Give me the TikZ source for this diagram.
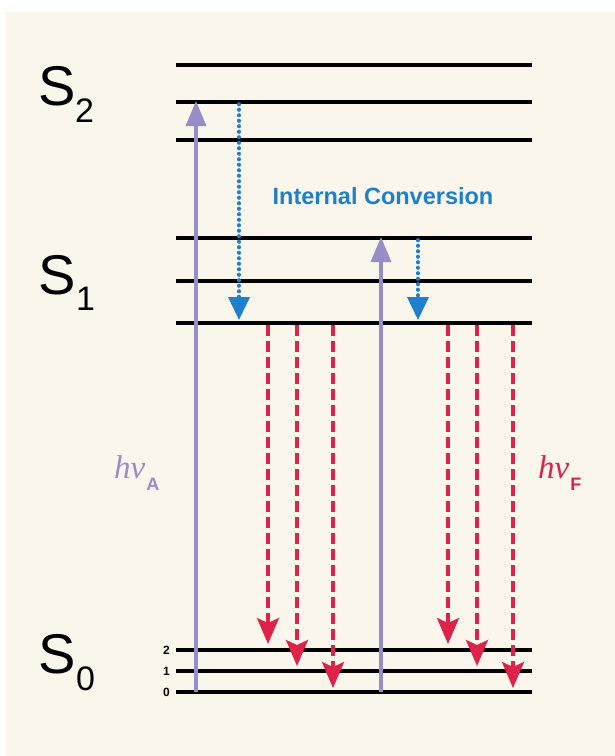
\documentclass[tikz,border=0pt]{standalone}
\usepackage{fontspec}
\setmainfont{Liberation Serif}
\setsansfont{Liberation Sans}
\usetikzlibrary{arrows.meta}
\definecolor{bg}{HTML}{FAF6EC}
\definecolor{lav}{HTML}{9A8CC6}
\definecolor{icblue}{HTML}{1E80CC}
\definecolor{fred}{HTML}{E0224A}
\begin{document}
\begin{tikzpicture}[x=1pt,y=-1pt,
  level/.style={line width=4.6pt,black},
  absarrow/.style={line width=3.2pt,lav,-{Triangle[width=20pt,length=25pt]}},
  icarrow/.style={line width=3.6pt,icblue,line cap=round,dash pattern=on 0.5pt off 5pt,-{Triangle[width=21pt,length=23pt]}},
  flarrow/.style={line width=3.2pt,fred,dash pattern=on 11pt off 5pt,-{Stealth[width=22pt,length=26pt,inset=5pt]}},
  statelbl/.style={anchor=base west,inner sep=0pt,font=\sffamily\fontsize{56}{56}\selectfont},
  statesub/.style={anchor=base west,inner sep=0pt,font=\sffamily\fontsize{34}{34}\selectfont},
  vib/.style={anchor=east,inner sep=0pt,font=\sffamily\bfseries\fontsize{12}{12}\selectfont}
]
\useasboundingbox (0,0) rectangle (615,756);
\fill[white] (0,0) rectangle (615,756);
\fill[bg] (6,12) rectangle (615,756);

% levels
\foreach \n/\y in {s2a/65,s2b/102,s2c/140,s1a/238,s1b/281,s1c/323,s0b/650,s0a/671,s0z/692}{
  \coordinate (\n L) at (176,\y);
  \coordinate (\n R) at (532,\y);
  \draw[level] (\n L) -- (\n R);
}

% state labels
\node[statelbl] (S2) at (38,105) {S};
\node[statesub] (S2s) at (75,122) {2};
\node[statelbl] (S1) at (38,294) {S};
\node[statesub] (S1s) at (76,310) {1};
\node[statelbl] (S0) at (38,673) {S};
\node[statesub] (S0s) at (76,690) {0};

\node[vib] (v2) at (170,650) {2};
\node[vib] (v1) at (170,671) {1};
\node[vib] (v0) at (170,692) {0};

% absorption
\coordinate (a1s) at (196,692); \coordinate (a1e) at (196,101);
\coordinate (a2s) at (381,692); \coordinate (a2e) at (381,237);
\draw[absarrow] (a1s) -- (a1e);
\draw[absarrow] (a2s) -- (a2e);

% internal conversion
\coordinate (i1s) at (239,104); \coordinate (i1e) at (239,320);
\coordinate (i2s) at (418,240); \coordinate (i2e) at (418,320);
\draw[icarrow] (i1s) -- (i1e);
\draw[icarrow] (i2s) -- (i2e);
\node[icblue,font=\sffamily\bfseries\fontsize{23.5}{23.5}\selectfont,inner sep=0pt] (ic) at (383,196) {Internal Conversion};

% fluorescence
\foreach \n/\x/\y in {f1/268/644,f2/297/666,f3/333/688,f4/448/644,f5/477/666,f6/513/688}{
  \coordinate (\n s) at (\x,325);
  \coordinate (\n e) at (\x,\y);
  \draw[flarrow] (\n s) -- (\n e);
}

% photon labels
\node[lav,anchor=base west,inner sep=0pt] (hvA) at (114,478)
  {\fontsize{33}{33}\selectfont\itshape hν\kern1pt\raisebox{-12pt}{\upshape\sffamily\bfseries\fontsize{18}{18}\selectfont A}};
\node[fred,anchor=base west,inner sep=0pt] (hvF) at (538,478)
  {\fontsize{33}{33}\selectfont\itshape hν\kern1pt\raisebox{-12pt}{\upshape\sffamily\bfseries\fontsize{18}{18}\selectfont F}};
\end{tikzpicture}
\end{document}
